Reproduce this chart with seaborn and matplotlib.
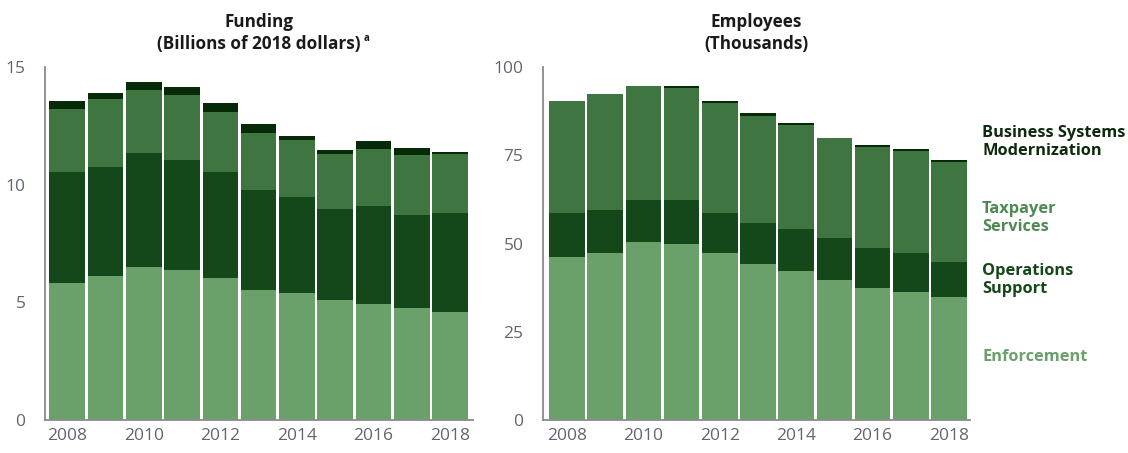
import matplotlib
matplotlib.use("Agg")
import matplotlib.pyplot as plt
import seaborn as sns
import numpy as np
import pandas as pd

years = list(range(2008, 2019))
tick_years = ["2008", "", "2010", "", "2012", "", "2014", "", "2016", "", "2018"]

# Funding, billions of 2018 dollars
fund_enforcement = [5.81, 6.12, 6.52, 6.39, 6.05, 5.52, 5.41, 5.11, 4.94, 4.76, 4.59]
fund_operations = [4.73, 4.64, 4.83, 4.67, 4.49, 4.25, 4.08, 3.86, 4.14, 3.97, 4.19]
fund_taxpayer = [2.69, 2.87, 2.69, 2.74, 2.56, 2.41, 2.39, 2.33, 2.45, 2.52, 2.51]
fund_bsm = [0.33, 0.27, 0.34, 0.34, 0.38, 0.38, 0.17, 0.17, 0.34, 0.32, 0.10]

# Employees, thousands
emp_enforcement = [46.2, 47.2, 50.4, 50.0, 47.2, 44.1, 42.2, 39.8, 37.5, 36.4, 34.8]
emp_operations = [12.4, 12.2, 12.0, 12.4, 11.3, 11.8, 12.0, 11.7, 11.3, 10.8, 10.1]
emp_taxpayer = [31.8, 33.0, 32.2, 31.6, 31.2, 30.3, 29.4, 28.4, 28.5, 29.0, 28.1]
emp_bsm = [0.0, 0.0, 0.1, 0.6, 0.7, 0.7, 0.6, 0.1, 0.6, 0.5, 0.7]

categories = ["Enforcement", "Operations Support", "Taxpayer Services",
              "Business Systems Modernization"]
colors = ["#6aa06a", "#14481a", "#3e7541", "#062a08"]
label_colors = ["#6aa06a", "#14481a", "#4f8a52", "#0e2a0e"]

sns.set_theme(style="white")
plt.rcParams["font.family"] = ["Open Sans", "DejaVu Sans"]

fig = plt.figure(figsize=(11.28, 4.53), dpi=100)
ax1 = fig.add_axes([45 / 1128, 33 / 453, 428 / 1128, 353 / 453])
ax2 = fig.add_axes([543 / 1128, 33 / 453, 427 / 1128, 353 / 453])


def draw(ax, series, ymax, yticks):
    df = pd.DataFrame({"year": [str(y) for y in years]})
    cum = np.zeros(len(years))
    cums = []
    for s in series:
        cum = cum + np.array(s)
        cums.append(cum.copy())
    # draw from top total downwards
    for c, col in reversed(list(zip(cums, colors))):
        df["v"] = c
        sns.barplot(data=df, x="year", y="v", color=col, width=0.93,
                    saturation=1, linewidth=0, ax=ax, errorbar=None)
    ax.set_ylim(0, ymax)
    ax.set_yticks(yticks)
    ax.set_yticklabels([str(t) for t in yticks])
    ax.set_xticks(range(len(years)))
    ax.set_xticklabels(tick_years)
    ax.set_xlabel("")
    ax.set_ylabel("")
    for sp in ["top", "right"]:
        ax.spines[sp].set_visible(False)
    for sp in ["left", "bottom"]:
        ax.spines[sp].set_color("#8a8a8a")
        ax.spines[sp].set_linewidth(1.3)
    ax.tick_params(axis="y", direction="in", length=5, width=1.2, color="#8a8a8a",
                   labelsize=12.5, labelcolor="#5f6670", pad=14)
    ax.tick_params(axis="x", length=0, labelsize=12.5, labelcolor="#5f6670", pad=6)


draw(ax1, [fund_enforcement, fund_operations, fund_taxpayer, fund_bsm], 15, [0, 5, 10, 15])
ax1.set_xlim(-0.58, 10.6)
draw(ax2, [emp_enforcement, emp_operations, emp_taxpayer, emp_bsm], 100, [0, 25, 50, 75, 100])
ax2.set_xlim(-0.63, 10.55)

t1 = ax1.set_title("Funding\n(Billions of 2018 dollars)", fontsize=12.3, fontweight="bold",
                   color="#1a1a1a", pad=13, linespacing=1.3)
ax1.annotate("a", xy=(1.0, 0.22), xycoords=t1, xytext=(2, 0), textcoords="offset points",
             fontsize=7, fontweight="bold", color="#1a1a1a", va="bottom", ha="left")
ax2.set_title("Employees\n(Thousands)", fontsize=12.3, fontweight="bold",
              color="#1a1a1a", pad=13, linespacing=1.3)

legend_items = [
    ("Business Systems\nModernization", 142, label_colors[3]),
    ("Taxpayer\nServices", 218, label_colors[2]),
    ("Operations\nSupport", 280, label_colors[1]),
    ("Enforcement", 357, label_colors[0]),
]
for txt, ypix, col in legend_items:
    fig.text(982 / 1128, 1 - ypix / 453, txt, fontsize=11.8, fontweight="bold",
             color=col, ha="left", va="center", linespacing=1.2)

fig.savefig("out.png", dpi=100)
